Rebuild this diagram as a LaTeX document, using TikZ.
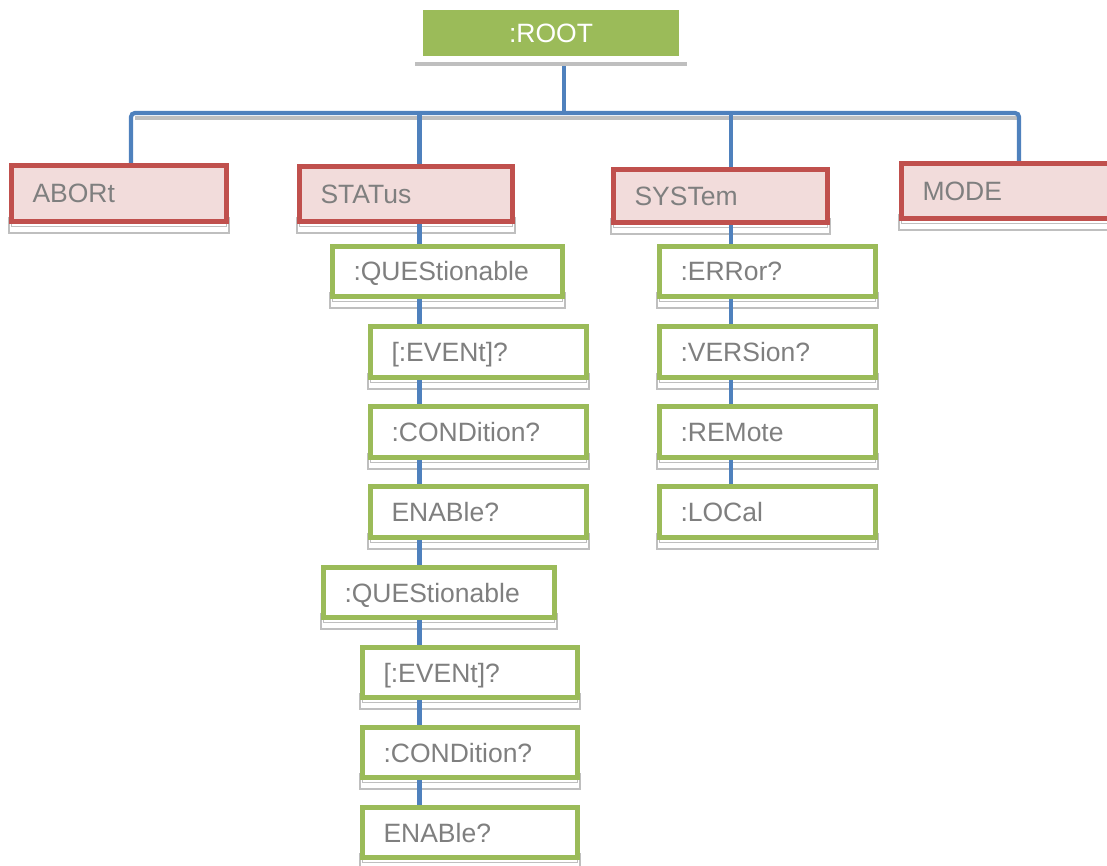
\documentclass[tikz,border=0pt]{standalone}
\usepackage{fontspec}
\setmainfont{Liberation Sans}
\usetikzlibrary{backgrounds}
\definecolor{redc}{HTML}{C0504D}
\definecolor{pinkc}{HTML}{F2DCDB}
\definecolor{greenc}{HTML}{9BBB59}
\definecolor{bluec}{HTML}{4F81BD}
\definecolor{txtc}{HTML}{7F7F7F}
\definecolor{shc}{HTML}{BFBFBF}
\tikzset{
  basebox/.style={line width=5pt, text=txtc, font=\fontsize{26.5pt}{30pt}\selectfont,
    align=left, text height=19pt, text depth=0pt, inner xsep=21pt, inner ysep=0pt},
  redbox/.style={basebox, draw=redc, fill=pinkc},
  greenbox/.style={basebox, draw=greenc, fill=white},
  rootbox/.style={fill=greenc, draw=none, text=white, outer sep=0pt, inner sep=0pt,
    font=\fontsize{26.5pt}{30pt}\selectfont, text height=19pt, text depth=0pt},
  shadowl/.style={draw=shc, line width=1.4pt},
  conn/.style={draw=bluec, line width=4.2pt},
  busshadow/.style={draw=shc, line width=4pt}
}
\newcommand\tbox[7]{%
  \pgfmathsetmacro\bw{#5-#3-5}\pgfmathsetmacro\bh{#6-#4-5}\pgfmathsetmacro\tw{#5-#3-5-42}%
  \begin{pgfonlayer}{background}
    \draw[shadowl] (#3,#6-6) rectangle (#5,#6+9);
    \draw[shadowl] (#3+2.5,#6-6) rectangle (#5-2.5,#6+2.5);
  \end{pgfonlayer}
  \node[#2, anchor=north west, minimum width=\bw pt, minimum height=\bh pt, text width=\tw pt] (#1) at (#3,#4) {#7};%
}
\begin{document}
\begin{tikzpicture}[x=1pt,y=-1pt]
\useasboundingbox (0,0) rectangle (1107,866);
% root
\draw[busshadow] (415,64) -- (687,64);
\node[rootbox, anchor=north west, minimum width=256pt, minimum height=46pt] (root) at (423,10) {:ROOT};
% level 1
\tbox{abort}{redbox}{9}{163}{229}{224}{ABORt}
\tbox{status}{redbox}{297}{164}{515}{224}{STATus}
\tbox{system}{redbox}{611}{167}{830}{225}{SYSTem}
\tbox{mode}{redbox}{899}{161}{1114}{221}{MODE}
% STATus column
\tbox{q1}{greenbox}{330}{244}{565}{299}{:QUEStionable}
\tbox{e1}{greenbox}{368}{324}{589}{380}{[:EVENt]?}
\tbox{c1}{greenbox}{368}{404}{589}{460}{:CONDition?}
\tbox{n1}{greenbox}{368}{484}{589}{540}{ENABle?}
\tbox{q2}{greenbox}{321}{565}{557}{620}{:QUEStionable}
\tbox{e2}{greenbox}{360}{645}{580}{700}{[:EVENt]?}
\tbox{c2}{greenbox}{360}{725}{580}{780}{:CONDition?}
\tbox{n2}{greenbox}{360}{805}{580}{860}{ENABle?}
% SYSTem column
\tbox{err}{greenbox}{657}{244}{878}{299}{:ERRor?}
\tbox{ver}{greenbox}{657}{324}{878}{380}{:VERSion?}
\tbox{rem}{greenbox}{657}{404}{878}{460}{:REMote}
\tbox{loc}{greenbox}{657}{484}{878}{540}{:LOCal}
% connectors
\coordinate (dR) at (564,113);
\coordinate (dA) at (131,113);
\coordinate (dS) at (419.5,113);
\coordinate (dY) at (731,113);
\coordinate (dM) at (1019,113);
\begin{pgfonlayer}{background}
  \draw[busshadow] ([xshift=4pt,yshift=-5pt]dA) -- ([yshift=-5pt]dM);
  \draw[conn] ([yshift=-8pt]root.south -| dR) -- (dR);
  \draw[conn, rounded corners=4pt] (abort.north -| dA) -- (dA) -- (dM) -- (mode.north -| dM);
  \draw[conn] (dS) -- (status.north -| dS);
  \draw[conn] (dY) -- (system.north -| dY);
  \foreach \a/\b in {status/q1, q1/e1, e1/c1, c1/n1, n1/q2, q2/e2, e2/c2, c2/n2}
    \draw[conn] (\a.south -| dS) -- (\b.north -| dS);
  \foreach \a/\b in {system/err, err/ver, ver/rem, rem/loc}
    \draw[conn] (\a.south -| dY) -- (\b.north -| dY);
\end{pgfonlayer}
\end{tikzpicture}
\end{document}
